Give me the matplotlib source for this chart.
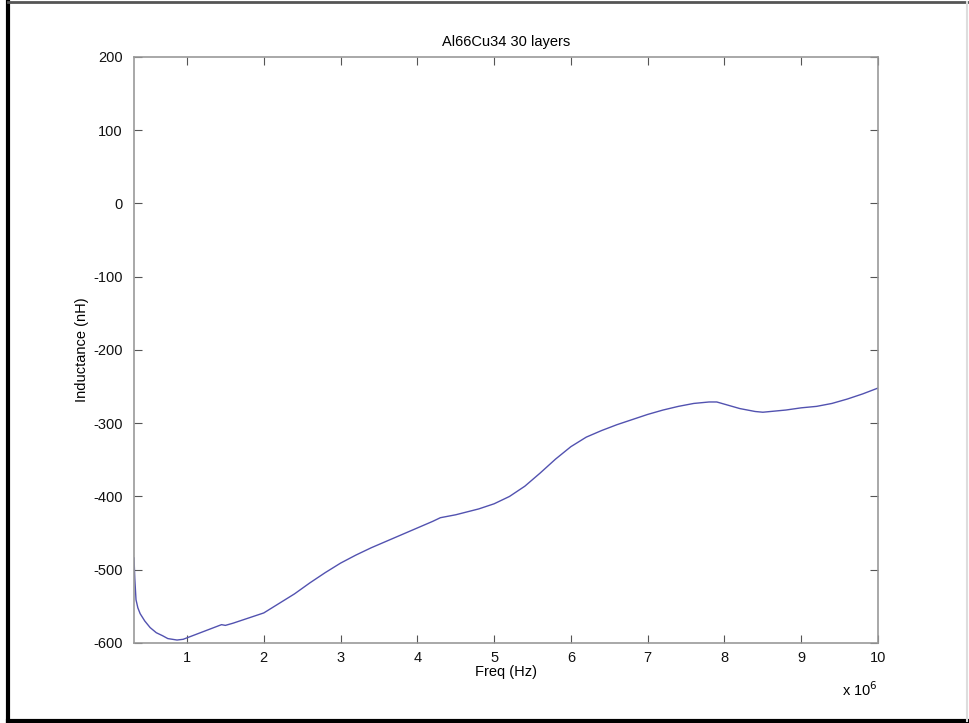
import matplotlib
matplotlib.use("Agg")
import matplotlib.pyplot as plt
from matplotlib.lines import Line2D
import numpy as np

# frequency in MHz
freq_mhz = [0.31, 0.32, 0.336, 0.36, 0.39, 0.45, 0.52, 0.6, 0.68, 0.75, 0.87, 0.95,
            1.0, 1.1, 1.2, 1.3, 1.4, 1.45, 1.5, 1.6, 1.8, 2.0, 2.2, 2.4, 2.6, 2.8,
            3.0, 3.2, 3.4, 3.6, 3.8, 4.0, 4.2, 4.3, 4.5, 4.8, 5.0, 5.2, 5.4, 5.6,
            5.8, 6.0, 6.2, 6.4, 6.6, 6.8, 7.0, 7.2, 7.4, 7.6, 7.8, 7.9, 8.0, 8.2,
            8.4, 8.5, 8.6, 8.8, 9.0, 9.2, 9.4, 9.6, 9.8, 10.0]
inductance = [-484, -512, -541, -552, -560, -570, -579, -586, -590, -594, -596, -595,
              -593, -589, -585, -581, -577, -575, -576, -573, -566, -559, -546, -533, -518, -504,
              -491, -480, -470, -461, -452, -443, -434, -429, -425, -417, -410, -400, -386, -368,
              -349, -332, -319, -310, -302, -295, -288, -282, -277, -273, -271, -271, -274, -280,
              -284, -285, -284, -282, -279, -277, -273, -267, -260, -252]

xticks = [1, 2, 3, 4, 5, 6, 7, 8, 9, 10]
yticks = [-600, -500, -400, -300, -200, -100, 0, 100, 200]

plt.rcParams['font.family'] = ['Liberation Sans', 'DejaVu Sans']
plt.rcParams['font.size'] = 10.5

fig = plt.figure(figsize=(9.69, 7.23), dpi=100)
ax = fig.add_axes([0.1383, 0.1107, 0.9061 - 0.1383, 0.9212 - 0.1107])

freq_hz = np.array(freq_mhz) * 1e6
ax.plot(freq_hz, inductance, color='#5252b0', lw=1.0)

ax.set_xlim(0.31e6, 10e6)
ax.set_ylim(-600, 200)
ax.set_xticks([t * 1e6 for t in xticks])
ax.set_xticklabels([str(t) for t in xticks])
ax.set_yticks(yticks)
ax.set_yticklabels([str(t) for t in yticks])
ax.tick_params(direction='in', length=6, width=0.8, color='#555555',
               top=True, right=True, labelcolor='#111111')
ax.tick_params(axis='y', pad=8)
ax.tick_params(axis='x', pad=6)
for s in ax.spines.values():
    s.set_color('#999999')
    s.set_linewidth(1.2)

ax.set_title('Al66Cu34 30 layers', fontsize=10.5, pad=8)
ax.set_xlabel('Freq (Hz)', labelpad=0)
ax.set_ylabel('Inductance (nH)', labelpad=3)
ax.text(1.0, -0.064, r'x 10$^{6}$', transform=ax.transAxes, ha='right', va='top')

# frame around the whole picture
fig.add_artist(Line2D([0.008, 0.008], [0.002, 0.998], transform=fig.transFigure, color='black', lw=3))
fig.add_artist(Line2D([0.008, 0.999], [0.003, 0.003], transform=fig.transFigure, color='black', lw=3))
fig.add_artist(Line2D([0.008, 0.999], [0.997, 0.997], transform=fig.transFigure, color='#555555', lw=2))
fig.add_artist(Line2D([0.998, 0.998], [0.003, 0.997], transform=fig.transFigure, color='#dddddd', lw=1.5))

fig.savefig('out.png', dpi=100)
